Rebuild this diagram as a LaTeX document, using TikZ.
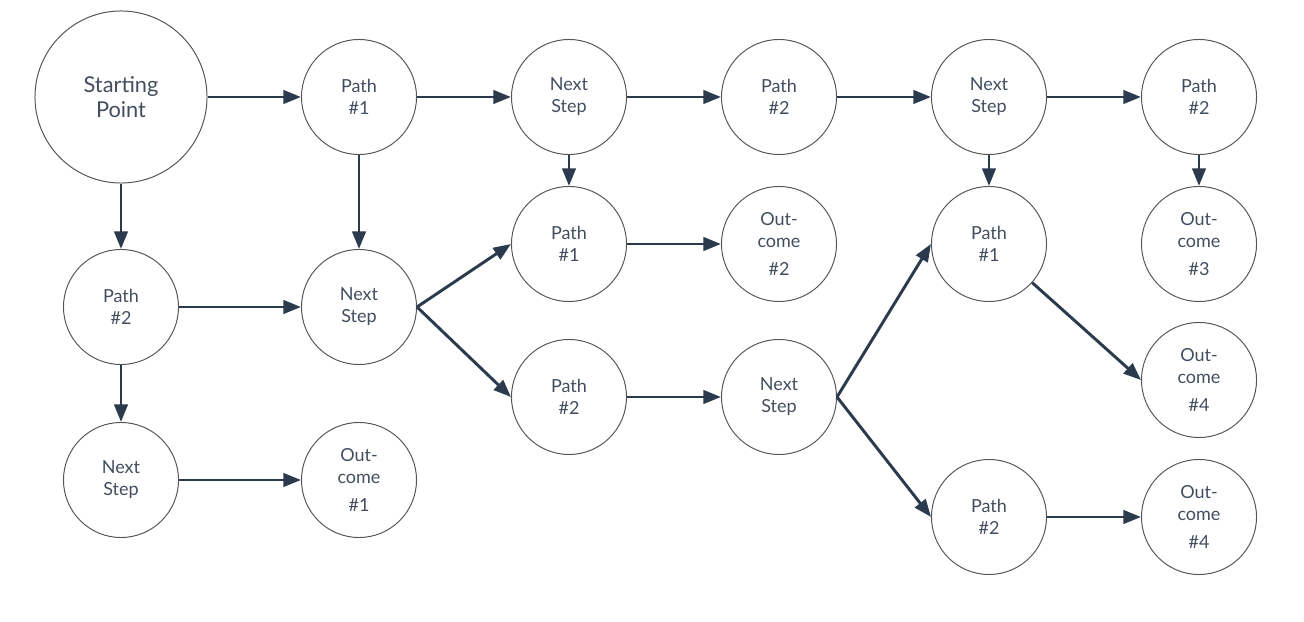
\documentclass[tikz,border=0pt]{standalone}
\usepackage{fontspec}
\setmainfont{Lato}
\usetikzlibrary{arrows.meta}
\usetikzlibrary{calc,positioning}

\definecolor{linkblue}{RGB}{43,58,76}
\definecolor{ringgrey}{RGB}{85,85,85}
\definecolor{textgrey}{RGB}{66,78,94}

\begin{document}
\begin{tikzpicture}[x=0.025cm,y=-0.025cm,
    stage/.style={circle, draw=ringgrey, line width=0.7pt, minimum size=2.875cm, inner sep=0pt,
        align=center, text=textgrey, font=\fontsize{12.8}{15.6}\selectfont},
    bigstage/.style={stage, minimum size=4.3cm, font=\fontsize{15.5}{17.8}\selectfont},
    link/.style={draw=linkblue, line width=2.1pt, -{Triangle[length=12.5pt,width=9.5pt]}}]
    \useasboundingbox (0,0) rectangle (1304,622);

    % top row
    \node[bigstage] (start) at (121,97) {Starting\\Point};
    \node[stage] (p1) at (359,97) {Path\\\#1};
    \node[stage] (ns1) at (569,97) {Next\\Step};
    \node[stage] (p2t) at (779,97) {Path\\\#2};
    \node[stage] (ns2) at (989,97) {Next\\Step};
    \node[stage] (p2tr) at (1199,97) {Path\\\#2};

    % left block
    \node[stage] (p2l) at (121,307) {Path\\\#2};
    \node[stage] (nsl) at (359,307) {Next\\Step};
    \node[stage] (nsbl) at (121,480) {Next\\Step};
    \node[stage] (out1) at (359,480) {Out-\\come\\[4pt]\#1};

    % middle block
    \node[stage] (p1m) at (569,244) {Path\\\#1};
    \node[stage] (out2) at (779,244) {Out-\\come\\[4pt]\#2};
    \node[stage] (p2m) at (569,397) {Path\\\#2};
    \node[stage] (nsm) at (779,397) {Next\\Step};

    % right block
    \node[stage] (p1r) at (989,244) {Path\\\#1};
    \node[stage] (out3) at (1199,244) {Out-\\come\\[4pt]\#3};
    \node[stage] (out4a) at (1199,380) {Out-\\come\\[4pt]\#4};
    \node[stage] (p2br) at (989,517) {Path\\\#2};
    \node[stage] (out4b) at (1199,517) {Out-\\come\\[4pt]\#4};

    \draw[link] (start) -- (p1);
    \draw[link] (start) -- (p2l);
    \draw[link] (p1) -- (ns1);
    \draw[link] (p1) -- (nsl);
    \draw[link] (ns1) -- (p2t);
    \draw[link] (ns1) -- (p1m);
    \draw[link] (p2t) -- (ns2);
    \draw[link] (ns2) -- (p2tr);
    \draw[link] (ns2) -- (p1r);
    \draw[link] (p2tr) -- (out3);

    \draw[link] (p2l) -- (nsl);
    \draw[link] (p2l) -- (nsbl);
    \draw[link] (nsbl) -- (out1);
    \draw[link] (nsl.east) -- (p1m.west);
    \draw[link] (nsl.east) -- (p2m.west);
    \draw[link] (p1m) -- (out2);
    \draw[link] (p2m) -- (nsm);
    \draw[link] (nsm.east) -- (p1r.west);
    \draw[link] (nsm.east) -- (p2br.west);
    \draw[link] (p1r) -- (out4a.west);
    \draw[link] (p2br) -- (out4b);
\end{tikzpicture}
\end{document}
